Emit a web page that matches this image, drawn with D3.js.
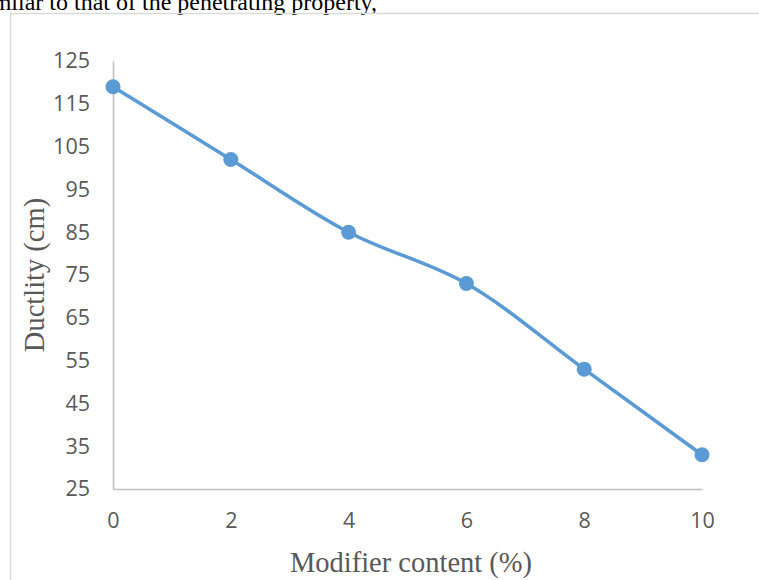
<!DOCTYPE html>
<html>
<head>
<meta charset="utf-8">
<script src="https://cdn.jsdelivr.net/npm/d3@7"></script>
<style>
  html, body { margin: 0; padding: 0; background: #fff; }
  svg { display: block; }
</style>
</head>
<body>
<svg id="chart" width="759" height="580"></svg>
<script>
// Ductility against modifier dosage
const modifierContent = [0, 2, 4, 6, 8, 10];
const ductility = [119, 102, 85, 73, 53, 33];
const yTicks = [25, 35, 45, 55, 65, 75, 85, 95, 105, 115, 125];
const xTicks = [0, 2, 4, 6, 8, 10];

const svg = d3.select("#chart");
const W = 759, H = 580;

// running text of the page above the figure
svg.append("text")
  .attr("x", 377).attr("y", 10)
  .attr("text-anchor", "end")
  .attr("font-family", "'Liberation Serif', 'Times New Roman', serif")
  .attr("font-size", 24)
  .attr("fill", "#000")
  .text("similar to that of the penetrating property,");

// figure frame
svg.append("path")
  .attr("d", `M10.5,${H + 5} L10.5,13.5 L${W + 5},13.5`)
  .attr("fill", "none")
  .attr("stroke", "#d9d9d9")
  .attr("stroke-width", 1.5);

const x = d3.scaleLinear().domain([0, 10]).range([113, 702]);
const y = d3.scaleLinear().domain([25, 125]).range([489, 61]);

const tickFont = "'Open Sans', 'Noto Sans', sans-serif";

// y axis
const yAxis = svg.append("g")
  .attr("transform", `translate(${x(0)},0)`)
  .call(d3.axisLeft(y).tickValues(yTicks).tickSize(0).tickPadding(23));
yAxis.select(".domain").attr("stroke", "#bfbfbf").attr("stroke-width", 1.5);
yAxis.attr("font-family", tickFont).attr("font-size", 21.5);
yAxis.selectAll("text").attr("fill", "#595959");

// x axis
const xAxis = svg.append("g")
  .attr("transform", `translate(0,${y(25)})`)
  .call(d3.axisBottom(x).tickValues(xTicks).tickSize(0).tickPadding(24));
xAxis.select(".domain").attr("stroke", "#bfbfbf").attr("stroke-width", 1.5);
xAxis.attr("font-family", tickFont).attr("font-size", 21.5);
xAxis.selectAll("text").attr("fill", "#595959");

// axis titles
svg.append("text")
  .attr("x", 411).attr("y", 572)
  .attr("text-anchor", "middle")
  .attr("font-family", "'Liberation Serif', 'Times New Roman', serif")
  .attr("font-size", 28.5).attr("fill", "#595959")
  .text("Modifier content (%)");

svg.append("text")
  .attr("transform", "translate(44,275) rotate(-90)")
  .attr("text-anchor", "middle")
  .attr("font-family", "'Liberation Serif', 'Times New Roman', serif")
  .attr("font-size", 28.5).attr("fill", "#595959")
  .text("Ductlity (cm)");

// smoothed series line
const pts = modifierContent.map((d, i) => [d, ductility[i]]);
const line = d3.line()
  .x(d => x(d[0])).y(d => y(d[1]))
  .curve(d3.curveCatmullRom.alpha(0.5));

svg.append("path")
  .datum(pts)
  .attr("d", line)
  .attr("fill", "none")
  .attr("stroke", "#5b9bd5")
  .attr("stroke-width", 3.5)
  .attr("stroke-linejoin", "round");

svg.append("g").selectAll("circle")
  .data(pts)
  .join("circle")
  .attr("cx", d => x(d[0]))
  .attr("cy", d => y(d[1]))
  .attr("r", 7.5)
  .attr("fill", "#5b9bd5");
</script>
</body>
</html>
